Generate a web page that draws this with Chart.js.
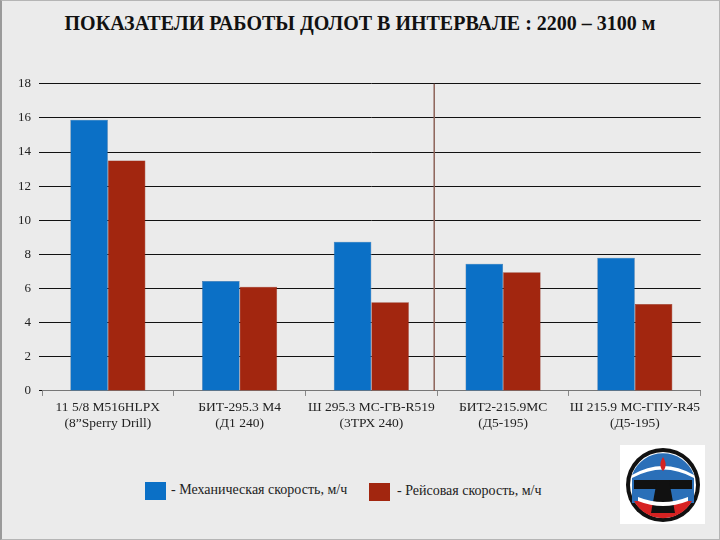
<!DOCTYPE html>
<html>
<head>
<meta charset="utf-8">
<script src="https://cdn.jsdelivr.net/npm/chart.js@4/dist/chart.umd.min.js"></script>
<style>
  html, body { margin: 0; padding: 0; }
  body {
    width: 720px; height: 540px; position: relative; overflow: hidden;
    background: #ebebeb;
    font-family: "Liberation Serif", "Times New Roman", serif;
  }
  .frame { position: absolute; left: 0; top: 0; border: 1px solid #b5b5b5; border-left: 2px solid #9a9a9a; box-sizing: border-box; width: 720px; height: 540px; }
  h1 {
    position: absolute; left: 0; top: 12px; width: 720px; margin: 0;
    text-align: center; font-size: 20px; font-weight: bold; color: #111;
    font-family: "Liberation Serif", serif;
  }
  #wrap { position: absolute; left: 0; top: 68px; width: 704px; height: 367px; }
  .leg { position: absolute; font-size: 14px; color: #222; }
  .sw { position: absolute; width: 21px; height: 18px; }
  #logo { position: absolute; left: 620px; top: 445px; }
</style>
</head>
<body>
<div class="frame"></div>
<h1>ПОКАЗАТЕЛИ РАБОТЫ ДОЛОТ В ИНТЕРВАЛЕ : 2200 – 3100 м</h1>
<div id="wrap"><canvas id="c"></canvas></div>

<div class="sw" style="left:145px; top:482px; background:#0b70c6;"></div>
<div class="leg" style="left:171px; top:482px;">- Механическая скорость, м/ч</div>
<div class="sw" style="left:369px; top:483px; background:#a2260f;"></div>
<div class="leg" style="left:397px; top:483px;">- Рейсовая скорость, м/ч</div>

<svg id="logo" width="85" height="79" viewBox="0 0 85 79">
  <rect x="0" y="0" width="85" height="79" fill="#ffffff"/>
  <circle cx="43" cy="40" r="37" fill="#111"/>
  <circle cx="43" cy="40" r="33" fill="#ffffff"/>
  <path d="M12 30 A33 33 0 0 1 74 30 L74 58 L12 58 Z" fill="#2a6fb8"/>
  <path d="M14 56 L72 56 A33 33 0 0 1 14 56 Z" fill="#d62222"/>
  <path d="M12 30 Q43 12 74 30 L74 33 Q43 16 12 33 Z" fill="#ffffff"/>
  <rect x="14" y="35" width="58" height="9" fill="#111"/>
  <polygon points="37,35 49,35 55,68 31,68" fill="#111"/>
  <path d="M18 52 Q43 62 68 52 L68 56 Q43 66 18 56 Z" fill="#ffffff"/>
  <path d="M43 12 C39 18 40 23 43 26 C46 23 47 18 43 12 Z" fill="#d62222"/>
</svg>

<script>
// category labels (two lines each)
var labels = [
  ['11 5/8 M516HLPX', '(8”Sperry Drill)'],
  ['БИТ-295.3 М4', '(Д1 240)'],
  ['Ш 295.3 МС-ГВ-R519', '(3ТРХ 240)'],
  ['БИТ2-215.9МС', '(Д5-195)'],
  ['Ш 215.9 МС-ГПУ-R45', '(Д5-195)']
];
var mechSpeed = [15.9, 6.45, 8.75, 7.45, 7.8];   // механическая скорость, м/ч
var tripSpeed = [13.5, 6.1, 5.2, 6.95, 5.1];     // рейсовая скорость, м/ч

Chart.defaults.font.family = '"Liberation Serif", "Times New Roman", serif';

// vertical separator between 3rd and 4th groups
var separator = {
  id: 'separator',
  beforeDatasetsDraw: function (chart) {
    var x = chart.scales.x;
    var area = chart.chartArea;
    var px = (x.getPixelForValue(2) + x.getPixelForValue(3)) / 2 - 3;
    var ctx = chart.ctx;
    ctx.save();
    ctx.strokeStyle = '#8c6258';
    ctx.lineWidth = 1.5;
    ctx.beginPath();
    ctx.moveTo(px, area.top);
    ctx.lineTo(px, area.bottom);
    ctx.stroke();
    ctx.restore();
  }
};

function draw() {
  new Chart(document.getElementById('c'), {
    type: 'bar',
    data: {
      labels: labels,
      datasets: [{
        label: 'Механическая скорость, м/ч',
        data: mechSpeed,
        backgroundColor: '#0b70c6',
        borderColor: '#2a5f95',
        borderWidth: 0.5
      }, {
        label: 'Рейсовая скорость, м/ч',
        data: tripSpeed,
        backgroundColor: '#a2260f',
        borderColor: '#8a2a1a',
        borderWidth: 0.5
      }]
    },
    plugins: [separator],
    options: {
      responsive: true,
      maintainAspectRatio: false,
      animation: false,
      layout: { padding: { left: 10, right: 0, top: 8, bottom: 0 } },
      categoryPercentage: 0.57,
      barPercentage: 1,
      plugins: {
        legend: { display: false },
        tooltip: { enabled: false }
      },
      scales: {
        y: {
          min: 0, max: 18,
          ticks: { stepSize: 2, color: '#222', padding: 8, font: { size: 13 } },
          grid: { color: '#111', lineWidth: 1, tickLength: 3 },
          border: { display: false }
        },
        x: {
          ticks: {
            color: '#222', padding: 4,
            font: { size: 13.5, lineHeight: 1.15 },
            maxRotation: 0, autoSkip: false
          },
          grid: { offset: true, drawOnChartArea: false, tickLength: 5, color: '#888' },
          border: { display: true, color: '#777' }
        }
      }
    }
  });
}

if (document.fonts && document.fonts.load) {
  document.fonts.load('13px "Liberation Serif"').then(draw, draw);
} else {
  draw();
}
</script>
</body>
</html>
